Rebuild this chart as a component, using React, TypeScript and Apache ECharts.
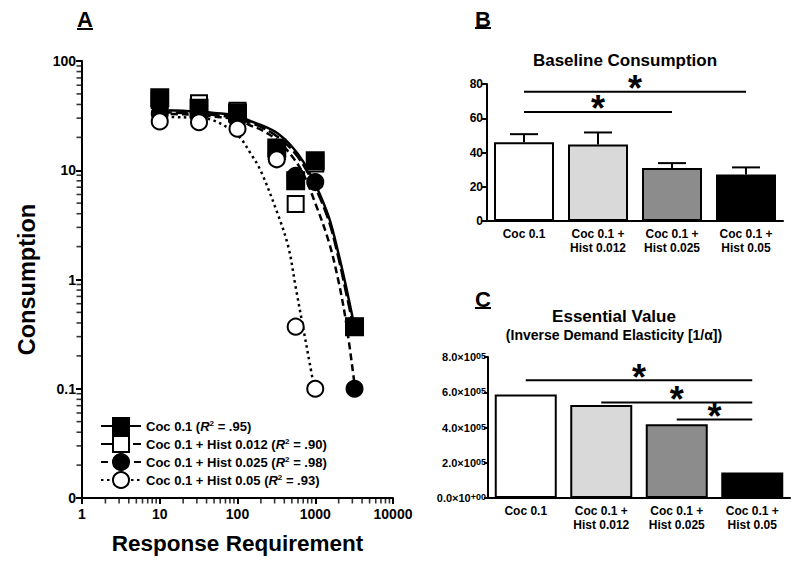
import React, { useEffect, useRef } from 'react';
import * as echarts from 'echarts';

const FONT = "'Liberation Sans', Arial, Helvetica, sans-serif";

// ---------- Panel A data ----------
const seriesNames = ['Coc 0.1', 'Coc 0.1 + Hist 0.012', 'Coc 0.1 + Hist 0.025', 'Coc 0.1 + Hist 0.05'];
const r2Labels = ['.95', '.90', '.98', '.93'];
const responseReq = [10, 32, 100, 320, 560, 1000, 3200];
const cocPts = [46, 37, 33.5, 16, 8, 12.2, 0.37];
const h012Pts = [44, 41, 35, 15, 4.9, 11.5, 0.37];
const h025Pts = [33, 31, 29, 14, 8.9, 7.8, 0.1];
const h05Pts = [28, 27.5, 24, 12.6, 0.37, 0.1];

const curveX = [10, 20, 32, 50, 100, 150, 200, 320, 500, 700, 1000, 1500, 2000, 2500, 3200];
const cocCurve = [35.5, 35, 34.5, 33.5, 31.5, 28, 26, 22, 16.5, 12, 7.5, 3.7, 1.7, 0.85, 0.37];
const h012Curve = [34, 33.5, 33, 32, 30, 27, 25, 20.5, 15.5, 11.2, 7, 3.4, 1.55, 0.75, 0.33];
const h025Curve = [33, 32.5, 32, 31, 29, 25.5, 23.5, 19, 13.5, 9.3, 5.0, 2.2, 0.95, 0.4, 0.11];
const h05CurveX = [10, 20, 32, 50, 100, 150, 200, 320, 450, 560, 700, 850, 1000];
const h05Curve = [31, 30.5, 30, 28.5, 21, 14, 9.8, 4.2, 2.0, 0.85, 0.36, 0.17, 0.09];

const xTickLabels = ['1', '10', '100', '1000', '10000'];
const yTickLabels = ['0', '0.1', '1', '10', '100'];
const minorMultipliers = [2, 3, 4, 5, 6, 7, 8, 9];
const yDecades = [0.01, 0.1, 1, 10];
const xDecades = [1, 10, 100, 1000];

// ---------- Panels B & C data ----------
const barCats = ['Coc 0.1', 'Coc 0.1 +\nHist 0.012', 'Coc 0.1 +\nHist 0.025', 'Coc 0.1 +\nHist 0.05'];
const barColors = ['#ffffff', '#d9d9d9', '#8c8c8c', '#000000'];
const baselineMean = [46, 44.7, 31, 27.2];
const baselineSem = [4.7, 7, 2.8, 4.1];
const baselineSig = [[0, 3, 75.5], [0, 2, 63.7]];
const essentialValue = [587000, 527000, 418000, 145000];
const essentialSig = [[0, 3, 668000], [1, 3, 542000], [2, 3, 446000]];

const zip = (xs: number[], ys: number[]) => ys.map((y, i) => [xs[i], y]);

const txt = (extra: any) => ({ fontFamily: FONT, fontWeight: 'bold', color: '#000', ...extra });

export default function App() {
  const ref = useRef<HTMLDivElement>(null);

  useEffect(() => {
    if (!ref.current) return;
    const chart = echarts.init(ref.current, undefined, { renderer: 'svg' });

    const axisLine = { show: true, lineStyle: { color: '#000', width: 2 } };

    const lineSeries = (i: number, xs: number[], ys: number[], symbol: string, fill: string, type: any) => ({
      type: 'line',
      name: seriesNames[i],
      xAxisIndex: 0,
      yAxisIndex: 0,
      data: zip(xs, ys),
      smooth: 0.35,
      showSymbol: false,
      symbol,
      symbolSize: 16,
      lineStyle: { color: '#000', width: 2.5, type },
      itemStyle: { color: fill, borderColor: '#000', borderWidth: 2 },
      z: 2,
      silent: true,
    });

    const scatterSeries = (name: string, xs: number[], ys: number[], symbol: string, fill: string, size: number) => ({
      type: 'scatter',
      name,
      xAxisIndex: 0,
      yAxisIndex: 0,
      data: zip(xs, ys),
      symbol,
      symbolSize: size,
      itemStyle: { color: fill, borderColor: '#000', borderWidth: 2, opacity: 1 },
      z: 3,
      silent: true,
    });

    const yMinor: number[][] = [];
    yDecades.forEach((d) => minorMultipliers.forEach((m) => yMinor.push([1, d * m])));
    const xMinor: number[][] = [];
    xDecades.forEach((d) => minorMultipliers.forEach((m) => xMinor.push([d * m, 0.01])));

    const sigRender = (lineW: number) => (params: any, api: any) => {
      const a = api.coord([api.value(0), api.value(2)]);
      const b = api.coord([api.value(1), api.value(2)]);
      return {
        type: 'group',
        children: [
          { type: 'line', shape: { x1: a[0], y1: a[1], x2: b[0], y2: b[1] }, style: { stroke: '#000', lineWidth: lineW } },
          {
            type: 'text',
            x: (a[0] + b[0]) / 2,
            y: a[1] - 3,
            style: { text: '*', fill: '#000', fontSize: 36, fontWeight: 'bold', fontFamily: FONT, align: 'center', verticalAlign: 'middle' },
          },
        ],
      };
    };

    const option: any = {
      animation: false,
      backgroundColor: '#ffffff',
      textStyle: { fontFamily: FONT },
      grid: [
        { left: 82, top: 61, width: 311, height: 437 },
        { left: 487, top: 84, width: 296, height: 137 },
        { left: 488, top: 357, width: 302, height: 141 },
      ],
      legend: {
        data: seriesNames,
        orient: 'vertical',
        left: 95,
        top: 412,
        itemWidth: 40,
        itemHeight: 20,
        itemGap: 0,
        selectedMode: false,
        formatter: (name: string) => `${name} ({i|R}{s|2} = ${r2Labels[seriesNames.indexOf(name)]})`,
        textStyle: {
          fontFamily: FONT,
          fontWeight: 'bold',
          fontSize: 13,
          color: '#000',
          rich: {
            i: { fontFamily: FONT, fontWeight: 'bold', fontStyle: 'italic', fontSize: 13, color: '#000' },
            s: { fontFamily: FONT, fontWeight: 'bold', fontSize: 8, color: '#000', verticalAlign: 'top', lineHeight: 10 },
          },
        },
      },
      xAxis: [
        {
          gridIndex: 0,
          type: 'log',
          logBase: 10,
          min: 1,
          max: 10000,
          axisLine,
          axisTick: { show: true, length: 6, lineStyle: { width: 2, color: '#000' } },
          splitLine: { show: false },
          axisLabel: txt({ fontSize: 14, margin: 9, formatter: (v: number) => xTickLabels[Math.round(Math.log10(v))] }),
          name: 'Response Requirement',
          nameLocation: 'middle',
          nameGap: 34,
          nameTextStyle: txt({ fontSize: 22.5 }),
        },
        {
          gridIndex: 1,
          type: 'category',
          data: barCats,
          axisLine,
          axisTick: { show: false },
          axisLabel: txt({ fontSize: 12, lineHeight: 14, margin: 6, interval: 0 }),
        },
        {
          gridIndex: 2,
          type: 'category',
          data: barCats,
          axisLine,
          axisTick: { show: false },
          axisLabel: txt({ fontSize: 12, lineHeight: 14, margin: 6, interval: 0 }),
        },
      ],
      yAxis: [
        {
          gridIndex: 0,
          type: 'log',
          logBase: 10,
          min: 0.01,
          max: 100,
          axisLine,
          axisTick: { show: true, length: 6, lineStyle: { width: 2, color: '#000' } },
          splitLine: { show: false },
          axisLabel: txt({ fontSize: 14, margin: 6, formatter: (v: number) => yTickLabels[Math.round(Math.log10(v)) + 2] }),
          name: 'Consumption',
          nameLocation: 'middle',
          nameGap: 43,
          nameRotate: 90,
          nameTextStyle: txt({ fontSize: 23.5 }),
        },
        {
          gridIndex: 1,
          type: 'value',
          min: 0,
          max: 80,
          interval: 20,
          axisLine,
          axisTick: { show: true, length: 5, lineStyle: { width: 2, color: '#000' } },
          splitLine: { show: false },
          axisLabel: txt({ fontSize: 12, margin: 4 }),
        },
        {
          gridIndex: 2,
          type: 'value',
          min: 0,
          max: 800000,
          interval: 200000,
          axisLine,
          axisTick: { show: true, length: 4, lineStyle: { width: 2, color: '#000' } },
          splitLine: { show: false },
          axisLabel: {
            margin: 2,
            formatter: (v: number) => `{b|${(v / 100000).toFixed(1)}×10}{s|${v === 0 ? '+00' : '05'}}`,
            rich: {
              b: txt({ fontSize: 11 }),
              s: txt({ fontSize: 9, verticalAlign: 'top', lineHeight: 9 }),
            },
          },
        },
      ],
      series: [
        lineSeries(0, curveX, cocCurve, 'rect', '#000', 'solid'),
        lineSeries(1, curveX, h012Curve, 'rect', '#fff', [12, 4]),
        lineSeries(2, curveX, h025Curve, 'circle', '#000', [7, 4]),
        lineSeries(3, h05CurveX, h05Curve, 'circle', '#fff', [2.5, 3.5]),
        scatterSeries('pts012', responseReq, h012Pts, 'rect', '#fff', 16),
        scatterSeries('ptsCoc', responseReq, cocPts, 'rect', '#000', 17),
        scatterSeries('pts025', responseReq, h025Pts, 'circle', '#000', 16),
        scatterSeries('pts05', responseReq.slice(0, h05Pts.length), h05Pts, 'circle', '#fff', 16),
        {
          type: 'scatter',
          name: 'yMinorTicks',
          xAxisIndex: 0,
          yAxisIndex: 0,
          data: yMinor,
          symbol: 'rect',
          symbolSize: [5, 1.6],
          symbolOffset: [-3, 0],
          itemStyle: { color: '#000' },
          clip: false,
          silent: true,
          z: 5,
        },
        {
          type: 'scatter',
          name: 'xMinorTicks',
          xAxisIndex: 0,
          yAxisIndex: 0,
          data: xMinor,
          symbol: 'rect',
          symbolSize: [1.6, 5],
          symbolOffset: [0, 3],
          itemStyle: { color: '#000' },
          clip: false,
          silent: true,
          z: 5,
        },
        {
          type: 'bar',
          xAxisIndex: 1,
          yAxisIndex: 1,
          barWidth: 60,
          data: baselineMean.map((v, i) => ({ value: v, itemStyle: { color: barColors[i] } })),
          itemStyle: { borderColor: '#000', borderWidth: 2 },
          silent: true,
        },
        {
          type: 'custom',
          xAxisIndex: 1,
          yAxisIndex: 1,
          data: baselineMean.map((m, i) => [i, m, baselineSem[i]]),
          silent: true,
          z: 3,
          renderItem: (params: any, api: any) => {
            const i = api.value(0);
            const m = api.value(1);
            const s = api.value(2);
            const p0 = api.coord([i, m]);
            const p1 = api.coord([i, m + s]);
            return {
              type: 'group',
              children: [
                { type: 'line', shape: { x1: p0[0], y1: p0[1], x2: p1[0], y2: p1[1] }, style: { stroke: '#000', lineWidth: 2 } },
                { type: 'line', shape: { x1: p1[0] - 14, y1: p1[1], x2: p1[0] + 14, y2: p1[1] }, style: { stroke: '#000', lineWidth: 2 } },
              ],
            };
          },
        },
        {
          type: 'custom',
          xAxisIndex: 1,
          yAxisIndex: 1,
          data: baselineSig,
          encode: { x: [0, 1], y: 2 },
          silent: true,
          renderItem: sigRender(2),
        },
        {
          type: 'bar',
          xAxisIndex: 2,
          yAxisIndex: 2,
          barWidth: 62,
          data: essentialValue.map((v, i) => ({ value: v, itemStyle: { color: barColors[i] } })),
          itemStyle: { borderColor: '#000', borderWidth: 2 },
          silent: true,
        },
        {
          type: 'custom',
          xAxisIndex: 2,
          yAxisIndex: 2,
          data: essentialSig,
          encode: { x: [0, 1], y: 2 },
          silent: true,
          renderItem: sigRender(2),
        },
      ],
      graphic: [
        { type: 'text', x: 85, y: 19, style: { text: 'A', fill: '#000', font: `bold 22px ${FONT}`, align: 'center', verticalAlign: 'middle' } },
        { type: 'rect', shape: { x: 77, y: 28, width: 16, height: 2 }, style: { fill: '#000' } },
        { type: 'text', x: 483, y: 19, style: { text: 'B', fill: '#000', font: `bold 22px ${FONT}`, align: 'center', verticalAlign: 'middle' } },
        { type: 'rect', shape: { x: 475, y: 27, width: 16, height: 2 }, style: { fill: '#000' } },
        { type: 'text', x: 483, y: 299, style: { text: 'C', fill: '#000', font: `bold 22px ${FONT}`, align: 'center', verticalAlign: 'middle' } },
        { type: 'rect', shape: { x: 475, y: 307, width: 16, height: 2 }, style: { fill: '#000' } },
        { type: 'text', x: 625, y: 60, style: { text: 'Baseline Consumption', fill: '#000', font: `bold 17px ${FONT}`, align: 'center', verticalAlign: 'middle' } },
        { type: 'text', x: 614, y: 316, style: { text: 'Essential Value', fill: '#000', font: `bold 17px ${FONT}`, align: 'center', verticalAlign: 'middle' } },
        { type: 'text', x: 614, y: 335, style: { text: '(Inverse Demand Elasticity [1/α])', fill: '#000', font: `bold 14px ${FONT}`, align: 'center', verticalAlign: 'middle' } },
      ],
    };

    chart.setOption(option);
    return () => chart.dispose();
  }, []);

  return (
    <div
      ref={ref}
      style={{ position: 'fixed', left: 0, top: 0, width: 800, height: 562, background: '#fff' }}
    />
  );
}
